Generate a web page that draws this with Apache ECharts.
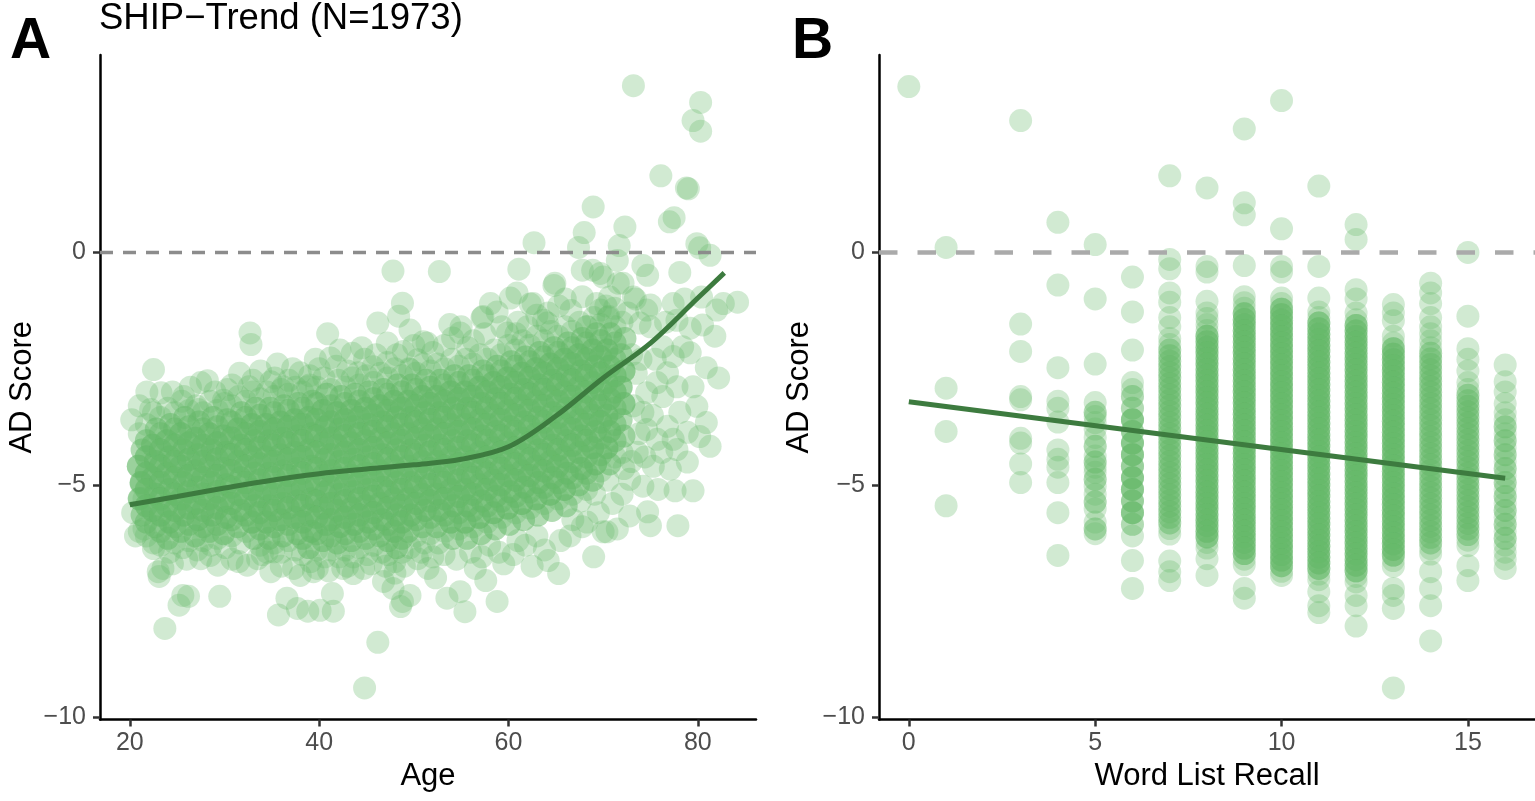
<!DOCTYPE html>
<html>
<head>
<meta charset="utf-8">
<script src="https://cdn.jsdelivr.net/npm/echarts@6/dist/echarts.min.js"></script>
<style>
html,body{margin:0;padding:0;background:#fff;}
#chart{width:1535px;height:801px;}
</style>
</head>
<body>
<div id="chart"></div>
<script>
// ---------------- DATA ----------------
const titleText = 'SHIP\u2212Trend (N=1973)';
const ageTicks = [20, 40, 60, 80];
const recallTicks = [0, 5, 10, 15];
const scoreTicks = [-10, -5, 0];
const referenceScore = 0;

// Panel A: dense core, [age, AD score, number of overlapping participants]
const coreA = [
[21.0,-3.9,1],[21.3,-4.25,2],[20.9,-4.6,3],[21.2,-4.95,3],[21.0,-5.3,3],[21.3,-5.65,2],[21.0,-6.0,1],
[22.5,-3.45,1],[22.8,-3.8,2],[22.4,-4.15,3],[22.7,-4.5,3],[22.4,-4.85,3],[22.7,-5.2,3],[22.4,-5.55,3],[22.7,-5.9,2],[22.5,-6.25,1],
[24.0,-3.35,1],[24.3,-3.7,2],[23.9,-4.05,3],[24.2,-4.4,3],[23.9,-4.75,3],[24.2,-5.1,3],[23.9,-5.45,3],[24.2,-5.8,3],[24.0,-6.15,2],[24.2,-6.45,1],
[25.5,-3.2,1],[25.8,-3.55,2],[25.4,-3.9,3],[25.7,-4.25,3],[25.4,-4.6,3],[25.7,-4.95,3],[25.4,-5.3,3],[25.7,-5.65,3],[25.4,-6.0,2],[25.6,-6.35,1],
[27.0,-3.3,1],[27.3,-3.65,2],[26.9,-4.0,3],[27.2,-4.35,3],[26.9,-4.7,3],[27.2,-5.05,3],[26.9,-5.4,3],[27.2,-5.75,3],[26.9,-6.1,2],[27.1,-6.4,1],
[28.5,-3.2,1],[28.8,-3.55,2],[28.4,-3.9,3],[28.7,-4.25,3],[28.4,-4.6,3],[28.7,-4.95,3],[28.4,-5.3,3],[28.7,-5.65,3],[28.4,-6.0,2],[28.6,-6.3,1],
[30.0,-3.25,1],[30.3,-3.6,2],[29.9,-3.95,3],[30.2,-4.3,3],[29.9,-4.65,3],[30.2,-5.0,3],[29.9,-5.35,3],[30.2,-5.7,3],[29.9,-6.05,2],[30.1,-6.35,1],
[31.5,-3.1,1],[31.8,-3.45,2],[31.4,-3.8,3],[31.7,-4.15,3],[31.4,-4.5,3],[31.7,-4.85,3],[31.4,-5.2,3],[31.7,-5.55,3],[31.4,-5.9,2],[31.6,-6.25,1],
[33.0,-3.0,1],[33.3,-3.35,2],[32.9,-3.7,3],[33.2,-4.05,3],[32.9,-4.4,3],[33.2,-4.75,3],[32.9,-5.1,3],[33.2,-5.45,3],[32.9,-5.8,3],[33.1,-6.15,2],
[34.5,-3.0,1],[34.8,-3.35,2],[34.4,-3.7,3],[34.7,-4.05,3],[34.4,-4.4,3],[34.7,-4.75,3],[34.4,-5.1,3],[34.7,-5.45,3],[34.4,-5.8,3],[34.7,-6.15,2],[34.5,-6.45,1],
[36.0,-2.95,1],[36.3,-3.3,2],[35.9,-3.65,3],[36.2,-4.0,3],[35.9,-4.35,3],[36.2,-4.7,3],[35.9,-5.05,3],[36.2,-5.4,3],[35.9,-5.75,3],[36.2,-6.1,2],[36.0,-6.45,1],
[37.5,-2.9,1],[37.8,-3.25,2],[37.4,-3.6,3],[37.7,-3.95,3],[37.4,-4.3,3],[37.7,-4.65,3],[37.4,-5.0,3],[37.7,-5.35,3],[37.4,-5.7,3],[37.7,-6.05,2],[37.5,-6.4,1],
[39.0,-2.85,1],[39.3,-3.2,2],[38.9,-3.55,3],[39.2,-3.9,3],[38.9,-4.25,3],[39.2,-4.6,3],[38.9,-4.95,3],[39.2,-5.3,3],[38.9,-5.65,3],[39.2,-6.0,3],[38.9,-6.35,2],[39.1,-6.65,1],
[40.5,-2.7,1],[40.8,-3.05,2],[40.4,-3.4,3],[40.7,-3.75,3],[40.4,-4.1,3],[40.7,-4.45,3],[40.4,-4.8,3],[40.7,-5.15,3],[40.4,-5.5,3],[40.7,-5.85,3],[40.4,-6.2,2],[40.6,-6.55,1],
[42.0,-2.75,1],[42.3,-3.1,2],[41.9,-3.45,3],[42.2,-3.8,3],[41.9,-4.15,3],[42.2,-4.5,3],[41.9,-4.85,3],[42.2,-5.2,3],[41.9,-5.55,3],[42.2,-5.9,3],[41.9,-6.25,2],[42.1,-6.55,1],
[43.5,-2.7,1],[43.8,-3.05,2],[43.4,-3.4,3],[43.7,-3.75,3],[43.4,-4.1,3],[43.7,-4.45,3],[43.4,-4.8,3],[43.7,-5.15,3],[43.4,-5.5,3],[43.7,-5.85,3],[43.4,-6.2,2],[43.6,-6.55,1],
[45.0,-2.65,1],[45.3,-3.0,2],[44.9,-3.35,3],[45.2,-3.7,3],[44.9,-4.05,3],[45.2,-4.4,3],[44.9,-4.75,3],[45.2,-5.1,3],[44.9,-5.45,3],[45.2,-5.8,3],[44.9,-6.15,2],[45.1,-6.5,1],
[46.5,-2.6,1],[46.8,-2.95,2],[46.4,-3.3,3],[46.7,-3.65,3],[46.4,-4.0,3],[46.7,-4.35,3],[46.4,-4.7,3],[46.7,-5.05,3],[46.4,-5.4,3],[46.7,-5.75,3],[46.4,-6.1,2],[46.6,-6.45,1],
[48.0,-2.5,1],[48.3,-2.85,2],[47.9,-3.2,3],[48.2,-3.55,3],[47.9,-3.9,3],[48.2,-4.25,3],[47.9,-4.6,3],[48.2,-4.95,3],[47.9,-5.3,3],[48.2,-5.65,3],[47.9,-6.0,3],[48.2,-6.35,2],[48.0,-6.65,1],
[49.5,-2.5,1],[49.8,-2.85,2],[49.4,-3.2,3],[49.7,-3.55,3],[49.4,-3.9,3],[49.7,-4.25,3],[49.4,-4.6,3],[49.7,-4.95,3],[49.4,-5.3,3],[49.7,-5.65,3],[49.4,-6.0,2],[49.6,-6.35,1],
[51.0,-2.4,1],[51.3,-2.75,2],[50.9,-3.1,3],[51.2,-3.45,3],[50.9,-3.8,3],[51.2,-4.15,3],[50.9,-4.5,3],[51.2,-4.85,3],[50.9,-5.2,3],[51.2,-5.55,3],[50.9,-5.9,2],[51.1,-6.25,1],
[52.5,-2.4,1],[52.8,-2.75,2],[52.4,-3.1,3],[52.7,-3.45,3],[52.4,-3.8,3],[52.7,-4.15,3],[52.4,-4.5,3],[52.7,-4.85,3],[52.4,-5.2,3],[52.7,-5.55,3],[52.4,-5.9,2],[52.6,-6.25,1],
[54.0,-2.3,1],[54.3,-2.65,2],[53.9,-3.0,3],[54.2,-3.35,3],[53.9,-3.7,3],[54.2,-4.05,3],[53.9,-4.4,3],[54.2,-4.75,3],[53.9,-5.1,3],[54.2,-5.45,3],[53.9,-5.8,3],[54.1,-6.15,2],
[55.5,-2.3,1],[55.8,-2.65,2],[55.4,-3.0,3],[55.7,-3.35,3],[55.4,-3.7,3],[55.7,-4.05,3],[55.4,-4.4,3],[55.7,-4.75,3],[55.4,-5.1,3],[55.7,-5.45,3],[55.4,-5.8,3],[55.6,-6.15,2],
[57.0,-2.2,1],[57.3,-2.55,2],[56.9,-2.9,3],[57.2,-3.25,3],[56.9,-3.6,3],[57.2,-3.95,3],[56.9,-4.3,3],[57.2,-4.65,3],[56.9,-5.0,3],[57.2,-5.35,3],[56.9,-5.7,3],[57.1,-6.05,2],
[58.5,-2.1,1],[58.8,-2.45,2],[58.4,-2.8,3],[58.7,-3.15,3],[58.4,-3.5,3],[58.7,-3.85,3],[58.4,-4.2,3],[58.7,-4.55,3],[58.4,-4.9,3],[58.7,-5.25,3],[58.4,-5.6,3],[58.6,-5.95,2],
[60.0,-2.0,1],[60.3,-2.35,2],[59.9,-2.7,3],[60.2,-3.05,3],[59.9,-3.4,3],[60.2,-3.75,3],[59.9,-4.1,3],[60.2,-4.45,3],[59.9,-4.8,3],[60.2,-5.15,3],[59.9,-5.5,3],[60.1,-5.85,2],
[61.5,-1.9,1],[61.8,-2.25,2],[61.4,-2.6,3],[61.7,-2.95,3],[61.4,-3.3,3],[61.7,-3.65,3],[61.4,-4.0,3],[61.7,-4.35,3],[61.4,-4.7,3],[61.7,-5.05,3],[61.4,-5.4,3],[61.6,-5.75,2],
[63.0,-1.8,1],[63.3,-2.15,2],[62.9,-2.5,3],[63.2,-2.85,3],[62.9,-3.2,3],[63.2,-3.55,3],[62.9,-3.9,3],[63.2,-4.25,3],[62.9,-4.6,3],[63.2,-4.95,3],[62.9,-5.3,3],[63.1,-5.65,2],
[64.5,-1.7,1],[64.8,-2.05,2],[64.4,-2.4,3],[64.7,-2.75,3],[64.4,-3.1,3],[64.7,-3.45,3],[64.4,-3.8,3],[64.7,-4.15,3],[64.4,-4.5,3],[64.7,-4.85,3],[64.4,-5.2,3],[64.6,-5.55,2],
[66.0,-1.6,1],[66.3,-1.95,2],[65.9,-2.3,3],[66.2,-2.65,3],[65.9,-3.0,3],[66.2,-3.35,3],[65.9,-3.7,3],[66.2,-4.05,3],[65.9,-4.4,3],[66.2,-4.75,3],[65.9,-5.1,3],[66.1,-5.45,2],
[67.5,-1.5,1],[67.8,-1.85,2],[67.4,-2.2,3],[67.7,-2.55,3],[67.4,-2.9,3],[67.7,-3.25,3],[67.4,-3.6,3],[67.7,-3.95,3],[67.4,-4.3,3],[67.7,-4.65,3],[67.4,-5.0,2],[67.6,-5.35,1],
[69.0,-1.4,1],[69.3,-1.75,2],[68.9,-2.1,3],[69.2,-2.45,3],[68.9,-2.8,3],[69.2,-3.15,3],[68.9,-3.5,3],[69.2,-3.85,3],[68.9,-4.2,3],[69.2,-4.55,3],[68.9,-4.9,2],[69.1,-5.2,1],
[70.5,-1.4,1],[70.8,-1.75,2],[70.4,-2.1,3],[70.7,-2.45,3],[70.4,-2.8,3],[70.7,-3.15,3],[70.4,-3.5,3],[70.7,-3.85,3],[70.4,-4.2,3],[70.7,-4.55,2],[70.5,-4.9,1],
[72.0,-1.5,1],[72.3,-1.85,2],[71.9,-2.2,2],[72.2,-2.55,3],[71.9,-2.9,3],[72.2,-3.25,3],[71.9,-3.6,2],[72.2,-3.95,2],[72.0,-4.3,1],[72.2,-4.65,1]
];

// Panel A: dense core, positions between the columns above
const coreA2 = [
[21.75,-3.7,1],[21.75,-4.05,2],[21.75,-4.4,3],[21.75,-4.75,3],[21.75,-5.1,3],[21.75,-5.45,3],[21.75,-5.8,2],[21.75,-6.1,1],
[23.25,-3.55,1],[23.25,-3.9,2],[23.25,-4.25,3],[23.25,-4.6,3],[23.25,-4.95,3],[23.25,-5.3,3],[23.25,-5.65,3],[23.25,-6.0,2],[23.25,-6.3,1],
[24.75,-3.45,1],[24.75,-3.8,2],[24.75,-4.15,3],[24.75,-4.5,3],[24.75,-4.85,3],[24.75,-5.2,3],[24.75,-5.55,3],[24.75,-5.9,2],[24.75,-6.25,1],
[26.25,-3.4,1],[26.25,-3.75,2],[26.25,-4.1,3],[26.25,-4.45,3],[26.25,-4.8,3],[26.25,-5.15,3],[26.25,-5.5,3],[26.25,-5.85,2],[26.25,-6.2,1],
[27.75,-3.45,1],[27.75,-3.8,2],[27.75,-4.15,3],[27.75,-4.5,3],[27.75,-4.85,3],[27.75,-5.2,3],[27.75,-5.55,3],[27.75,-5.9,2],[27.75,-6.2,1],
[29.25,-3.4,1],[29.25,-3.75,2],[29.25,-4.1,3],[29.25,-4.45,3],[29.25,-4.8,3],[29.25,-5.15,3],[29.25,-5.5,3],[29.25,-5.85,2],[29.25,-6.15,1],
[30.75,-3.3,1],[30.75,-3.65,2],[30.75,-4.0,3],[30.75,-4.35,3],[30.75,-4.7,3],[30.75,-5.05,3],[30.75,-5.4,3],[30.75,-5.75,2],[30.75,-6.1,1],
[32.25,-3.2,1],[32.25,-3.55,2],[32.25,-3.9,3],[32.25,-4.25,3],[32.25,-4.6,3],[32.25,-4.95,3],[32.25,-5.3,3],[32.25,-5.65,2],[32.25,-6.0,1],
[33.75,-3.15,1],[33.75,-3.5,2],[33.75,-3.85,3],[33.75,-4.2,3],[33.75,-4.55,3],[33.75,-4.9,3],[33.75,-5.25,3],[33.75,-5.6,3],[33.75,-5.95,2],[33.75,-6.3,1],
[35.25,-3.1,1],[35.25,-3.45,2],[35.25,-3.8,3],[35.25,-4.15,3],[35.25,-4.5,3],[35.25,-4.85,3],[35.25,-5.2,3],[35.25,-5.55,3],[35.25,-5.9,2],[35.25,-6.25,1],
[36.75,-3.05,1],[36.75,-3.4,2],[36.75,-3.75,3],[36.75,-4.1,3],[36.75,-4.45,3],[36.75,-4.8,3],[36.75,-5.15,3],[36.75,-5.5,3],[36.75,-5.85,2],[36.75,-6.2,1],
[38.25,-3.0,1],[38.25,-3.35,2],[38.25,-3.7,3],[38.25,-4.05,3],[38.25,-4.4,3],[38.25,-4.75,3],[38.25,-5.1,3],[38.25,-5.45,3],[38.25,-5.8,3],[38.25,-6.15,2],[38.25,-6.5,1],
[39.75,-2.9,1],[39.75,-3.25,2],[39.75,-3.6,3],[39.75,-3.95,3],[39.75,-4.3,3],[39.75,-4.65,3],[39.75,-5.0,3],[39.75,-5.35,3],[39.75,-5.7,3],[39.75,-6.05,2],[39.75,-6.4,1],
[41.25,-2.95,1],[41.25,-3.3,2],[41.25,-3.65,3],[41.25,-4.0,3],[41.25,-4.35,3],[41.25,-4.7,3],[41.25,-5.05,3],[41.25,-5.4,3],[41.25,-5.75,3],[41.25,-6.1,2],[41.25,-6.4,1],
[42.75,-2.9,1],[42.75,-3.25,2],[42.75,-3.6,3],[42.75,-3.95,3],[42.75,-4.3,3],[42.75,-4.65,3],[42.75,-5.0,3],[42.75,-5.35,3],[42.75,-5.7,3],[42.75,-6.05,2],[42.75,-6.4,1],
[44.25,-2.85,1],[44.25,-3.2,2],[44.25,-3.55,3],[44.25,-3.9,3],[44.25,-4.25,3],[44.25,-4.6,3],[44.25,-4.95,3],[44.25,-5.3,3],[44.25,-5.65,3],[44.25,-6.0,2],[44.25,-6.35,1],
[45.75,-2.8,1],[45.75,-3.15,2],[45.75,-3.5,3],[45.75,-3.85,3],[45.75,-4.2,3],[45.75,-4.55,3],[45.75,-4.9,3],[45.75,-5.25,3],[45.75,-5.6,3],[45.75,-5.95,2],[45.75,-6.3,1],
[47.25,-2.7,1],[47.25,-3.05,2],[47.25,-3.4,3],[47.25,-3.75,3],[47.25,-4.1,3],[47.25,-4.45,3],[47.25,-4.8,3],[47.25,-5.15,3],[47.25,-5.5,3],[47.25,-5.85,2],[47.25,-6.2,2],[47.25,-6.5,1],
[48.75,-2.65,1],[48.75,-3.0,2],[48.75,-3.35,3],[48.75,-3.7,3],[48.75,-4.05,3],[48.75,-4.4,3],[48.75,-4.75,3],[48.75,-5.1,3],[48.75,-5.45,3],[48.75,-5.8,3],[48.75,-6.15,2],[48.75,-6.45,1],
[50.25,-2.6,1],[50.25,-2.95,2],[50.25,-3.3,3],[50.25,-3.65,3],[50.25,-4.0,3],[50.25,-4.35,3],[50.25,-4.7,3],[50.25,-5.05,3],[50.25,-5.4,3],[50.25,-5.75,2],[50.25,-6.1,1],
[51.75,-2.55,1],[51.75,-2.9,2],[51.75,-3.25,3],[51.75,-3.6,3],[51.75,-3.95,3],[51.75,-4.3,3],[51.75,-4.65,3],[51.75,-5.0,3],[51.75,-5.35,3],[51.75,-5.7,2],[51.75,-6.05,1],
[53.25,-2.5,1],[53.25,-2.85,2],[53.25,-3.2,3],[53.25,-3.55,3],[53.25,-3.9,3],[53.25,-4.25,3],[53.25,-4.6,3],[53.25,-4.95,3],[53.25,-5.3,3],[53.25,-5.65,2],[53.25,-6.0,1],
[54.75,-2.45,1],[54.75,-2.8,2],[54.75,-3.15,3],[54.75,-3.5,3],[54.75,-3.85,3],[54.75,-4.2,3],[54.75,-4.55,3],[54.75,-4.9,3],[54.75,-5.25,3],[54.75,-5.6,2],[54.75,-5.95,1],
[56.25,-2.4,1],[56.25,-2.75,2],[56.25,-3.1,3],[56.25,-3.45,3],[56.25,-3.8,3],[56.25,-4.15,3],[56.25,-4.5,3],[56.25,-4.85,3],[56.25,-5.2,3],[56.25,-5.55,2],[56.25,-5.9,1],
[57.75,-2.3,1],[57.75,-2.65,2],[57.75,-3.0,3],[57.75,-3.35,3],[57.75,-3.7,3],[57.75,-4.05,3],[57.75,-4.4,3],[57.75,-4.75,3],[57.75,-5.1,3],[57.75,-5.45,2],[57.75,-5.8,1],
[59.25,-2.2,1],[59.25,-2.55,2],[59.25,-2.9,3],[59.25,-3.25,3],[59.25,-3.6,3],[59.25,-3.95,3],[59.25,-4.3,3],[59.25,-4.65,3],[59.25,-5.0,3],[59.25,-5.35,2],[59.25,-5.7,1],
[60.75,-2.1,1],[60.75,-2.45,2],[60.75,-2.8,3],[60.75,-3.15,3],[60.75,-3.5,3],[60.75,-3.85,3],[60.75,-4.2,3],[60.75,-4.55,3],[60.75,-4.9,3],[60.75,-5.25,2],[60.75,-5.6,1],
[62.25,-2.0,1],[62.25,-2.35,2],[62.25,-2.7,3],[62.25,-3.05,3],[62.25,-3.4,3],[62.25,-3.75,3],[62.25,-4.1,3],[62.25,-4.45,3],[62.25,-4.8,3],[62.25,-5.15,2],[62.25,-5.5,1],
[63.75,-1.9,1],[63.75,-2.25,2],[63.75,-2.6,3],[63.75,-2.95,3],[63.75,-3.3,3],[63.75,-3.65,3],[63.75,-4.0,3],[63.75,-4.35,3],[63.75,-4.7,3],[63.75,-5.05,2],[63.75,-5.4,1],
[65.25,-1.8,1],[65.25,-2.15,2],[65.25,-2.5,3],[65.25,-2.85,3],[65.25,-3.2,3],[65.25,-3.55,3],[65.25,-3.9,3],[65.25,-4.25,3],[65.25,-4.6,3],[65.25,-4.95,2],[65.25,-5.3,1],
[66.75,-1.7,1],[66.75,-2.05,2],[66.75,-2.4,3],[66.75,-2.75,3],[66.75,-3.1,3],[66.75,-3.45,3],[66.75,-3.8,3],[66.75,-4.15,3],[66.75,-4.5,2],[66.75,-4.85,2],[66.75,-5.2,1],
[68.25,-1.6,1],[68.25,-1.95,2],[68.25,-2.3,3],[68.25,-2.65,3],[68.25,-3.0,3],[68.25,-3.35,3],[68.25,-3.7,3],[68.25,-4.05,3],[68.25,-4.4,2],[68.25,-4.75,2],[68.25,-5.1,1],
[69.75,-1.55,1],[69.75,-1.9,2],[69.75,-2.25,3],[69.75,-2.6,3],[69.75,-2.95,3],[69.75,-3.3,3],[69.75,-3.65,3],[69.75,-4.0,2],[69.75,-4.35,2],[69.75,-4.7,1],
[71.25,-1.6,1],[71.25,-1.95,2],[71.25,-2.3,2],[71.25,-2.65,3],[71.25,-3.0,3],[71.25,-3.35,2],[71.25,-3.7,2],[71.25,-4.05,2],[71.25,-4.4,1]
];

// Panel A: single participants above the core
const upperA = [
[20.2,-3.6],[21.0,-3.3],[21.8,-3.0],[22.2,-3.38],[22.5,-2.52],[23.3,-3.02],[24.5,-3.0],[25.7,-3.1],[26.4,-2.9],[27.2,-3.38],[27.5,-2.8],[28.2,-2.76],[29.0,-3.0],[29.9,-3.18],
[30.3,-2.95],[30.8,-2.85],[31.6,-2.6],[32.7,-1.73],[32.8,-1.98],[32.6,-2.89],[33.0,-2.75],[33.8,-2.55],[34.9,-2.78],[35.3,-2.7],[35.6,-2.4],[36.2,-2.89],[36.8,-2.75],[37.2,-2.5],
[38.0,-2.59],[38.8,-2.89],[39.0,-2.65],[39.6,-2.3],[40.0,-2.5],[40.9,-1.75],[41.2,-2.27],[41.8,-2.45],[42.2,-2.1],[43.0,-2.55],[43.5,-2.17],[44.1,-2.59],[44.5,-2.05],[44.8,-2.3],
[45.7,-2.46],[46.0,-2.2],[46.2,-1.52],[47.2,-1.95],[47.2,-2.37],[47.8,-0.4],[48.2,-2.2],[48.4,-1.37],[48.8,-1.09],[48.9,-2.13],[49.6,-2.52],[49.6,-1.67],[50.0,-2.0],[50.4,-2.31],
[51.0,-1.92],[51.4,-1.95],[52.0,-2.15],[52.7,-0.41],[53.2,-2.0],[53.8,-1.55],[54.1,-1.84],[54.9,-1.73],[55.0,-1.6],[55.7,-2.05],[56.3,-1.9],[57.2,-1.4],[57.3,-1.38],[57.5,-1.75],
[58.1,-1.1],[58.8,-1.28],[59.3,-1.6],[59.9,-1.73],[60.2,-0.98],[60.8,-1.75],[60.9,-0.87],[61.0,-1.5],[61.1,-0.36],[62.0,-1.6],[62.3,-1.11],[62.6,-1.1],[62.7,0.21],[63.0,-1.35],
[63.7,-1.46],[64.1,-1.52],[64.2,-1.3],[64.8,-0.71],[64.9,-0.66],[65.3,-1.15],[66.0,-1.0],[66.6,-1.25],[67.4,0.11],[67.8,-0.95],[67.8,-0.38],[68.0,0.43],[68.3,-1.6],[68.9,-0.38],
[68.95,0.98],[69.3,-1.1],[69.7,-0.45],[69.7,-1.24],[70.0,-0.53],[70.3,-1.15],[70.6,-1.38],[70.7,-0.96],[71.2,-1.2],[71.5,-0.17],[71.6,-0.66],[71.7,0.15],[72.1,-0.66],[72.3,0.55]
];

// Panel A: single participants below the core
const lowerA = [
[20.3,-5.6],[20.6,-6.1],[21.2,-4.98],[21.5,-5.3],[21.5,-5.95],[22.5,-6.37],[23.0,-6.87],[23.1,-6.97],[23.5,-6.8],[23.7,-8.09],[24.5,-6.7],[25.2,-7.59],[25.6,-7.38],[26.0,-6.6],
[26.2,-7.4],[27.5,-6.59],[28.5,-6.52],[29.3,-6.73],[29.5,-7.4],[30.8,-6.6],[31.5,-6.65],[32.4,-6.73],[33.5,-6.59],[34.0,-6.5],[34.9,-6.87],[35.2,-6.44],[35.7,-7.8],[36.0,-6.75],
[36.6,-7.44],[37.3,-6.8],[37.7,-7.66],[38.0,-6.95],[38.8,-7.72],[39.4,-6.87],[39.8,-6.8],[40.1,-7.7],[41.0,-6.85],[41.4,-7.34],[41.5,-7.72],[42.5,-6.8],[43.0,-6.75],[43.6,-6.91],
[44.7,-6.8],[44.8,-9.37],[45.5,-6.7],[46.2,-8.39],[46.8,-7.08],[47.0,-6.75],[47.8,-7.23],[48.0,-6.9],[48.6,-7.62],[48.8,-7.51],[49.0,-6.75],[49.6,-7.38],[50.4,-6.59],[50.8,-6.45],
[51.5,-6.8],[52.0,-6.55],[52.3,-7.0],[53.2,-6.5],[53.5,-7.44],[54.5,-6.6],[54.9,-7.3],[55.4,-7.73],[56.0,-6.45],[56.5,-6.8],[57.2,-6.55],[57.6,-7.06],[58.0,-6.3],[58.8,-7.51],
[59.0,-6.45],[59.5,-6.7],[60.5,-6.5],[61.0,-6.2],[61.8,-6.3],[62.5,-6.75],[63.0,-6.1],[63.8,-6.4],[64.2,-6.63],[65.3,-6.91],[65.5,-6.2],[66.5,-6.1],[66.8,-5.75],[67.8,-5.9],
[68.3,-5.8],[69.0,-6.55],[69.5,-5.6],[70.0,-6.01],[70.4,-6.01],[71.0,-5.4],[71.5,-5.95],[72.0,-5.2]
];

// Panel A: older participants scattered to the right of the core
const olderA = [
[73.2,3.59],[80.3,3.23],[79.5,2.84],[80.3,2.61],[76.1,1.65],[78.8,1.39],[79.0,1.37],[77.0,0.66],[77.5,0.75],[80.2,0.1],[79.9,0.19],[81.3,-0.06],[78.1,-0.43],[74.7,-0.49],
[74.2,-0.28],[82.7,-1.1],[82.0,-1.24],[80.4,-0.96],[77.4,-1.1],[75.0,-1.13],[80.5,-1.56],[79.2,-1.63],[77.8,-1.46],[79.2,-2.16],[80.9,-2.48],[77.4,-2.24],[76.3,-2.03],[79.5,-2.89],
[77.8,-2.89],[75.7,-2.8],[79.9,-3.31],[80.9,-3.66],[78.1,-3.44],[76.8,-3.74],[81.3,-4.17],[80.2,-3.96],[78.9,-3.87],[77.4,-4.02],[75.7,-4.02],[74.6,-3.81],[78.9,-4.51],[77.1,-4.66],
[75.3,-4.6],[79.5,-5.13],[77.6,-5.13],[74.2,-5.03],[72.8,-4.88],[77.9,-5.88],[75.0,-5.88],[74.7,-5.58],[72.8,-5.67],[76.3,-3.1],[74.6,-3.02],[74.2,-3.44],[75.0,-1.6],[73.9,-1.52],
[78.4,-2.03],[76.8,-2.59],[77.8,-4.24],[73.6,-4.3],[73.2,-0.96],[74.6,-1.24],[84.2,-1.07],[73.0,-2.2],[73.5,-2.6],[73.2,-3.3],[73.8,-3.9],[73.0,-4.5],[74.0,-2.3],[72.6,-1.3],
[73.4,-1.0],[74.4,-4.4],[75.5,-2.3],[75.2,-3.5],[76.2,-4.3],[75.8,-5.1],[76.6,-1.5],[78.6,-1.0],[81.8,-1.8],[82.2,-2.7]
];

// Panel A: LOESS fit
const loessAge   = [20, 25, 30, 35, 40, 45, 50, 55, 60, 65, 70, 75, 80, 82.8];
const loessScore = [-5.43, -5.25, -5.07, -4.9, -4.76, -4.66, -4.57, -4.45, -4.18, -3.52, -2.7, -1.95, -0.98, -0.44];

// Panel B: word list recall values with their scattered AD scores [score, participants]
const recallValues = [0, 1, 3, 4, 5, 6, 7, 8, 9, 10, 11, 12, 13, 14, 15, 16];
const recallScores = [
 [[3.57,1]],
 [[0.11,1],[-2.92,1],[-3.85,1],[-5.45,1]],
 [[2.84,1],[-1.54,1],[-2.13,1],[-3.1,1],[-3.17,1],[-4.0,1],[-4.1,1],[-4.55,1],[-4.95,1]],
 [[0.65,1],[-0.7,1],[-2.48,1],[-3.2,1],[-3.35,1],[-3.65,1],[-4.25,1],[-4.45,1],[-4.62,1],[-4.95,1],[-5.6,1],[-6.52,1]],
 [[0.17,1],[-1.0,1],[-2.4,1],[-3.23,1],[-3.44,2],[-3.53,1],[-3.66,1],[-3.8,1],[-3.98,1],[-4.17,2],[-4.38,1],[-4.51,2],[-4.62,1],[-4.73,1],[-4.88,2],[-5.03,1],[-5.2,1],[-5.37,2],[-5.52,1],[-5.8,1],[-5.95,2],[-6.05,1]],
 [[-0.53,1],[-1.28,1],[-2.1,1],[-2.8,1],[-2.95,1],[-3.1,2],[-3.35,2],[-3.6,4],[-3.85,3],[-4.1,4],[-4.35,4],[-4.6,3],[-4.85,4],[-5.1,4],[-5.35,3],[-5.6,4],[-5.85,2],[-6.1,1],[-6.63,1],[-7.23,1]],
 [[1.65,1],[-0.15,1],[-0.35,1],[-0.87,1],[-1.07,1],[-1.4,1],[-1.6,1],[-1.85,1],[-1.98,1],[-5.94,1],[-6.06,1],[-6.64,1],[-6.87,1],[-7.06,1]],
 [[1.39,1],[-0.3,1],[-0.42,1],[-1.05,1],[-1.3,1],[-1.42,1],[-1.55,1],[-1.68,1],[-6.24,1],[-6.36,1],[-6.59,1],[-6.95,1]],
 [[2.66,1],[1.07,1],[0.81,1],[-0.28,1],[-0.95,1],[-1.08,1],[-1.2,1],[-6.6,1],[-6.72,1],[-7.23,1],[-7.44,1]],
 [[3.27,1],[0.51,1],[-0.3,1],[-0.42,1],[-0.98,1],[-1.1,1],[-6.86,1],[-6.95,1]],
 [[1.43,1],[-0.3,1],[-0.98,1],[-1.28,1],[-1.4,1],[-6.92,1],[-7.04,1],[-7.3,1],[-7.6,1],[-7.75,1]],
 [[0.6,1],[0.28,1],[-0.8,1],[-1.0,1],[-1.3,1],[-1.45,1],[-6.97,1],[-7.09,1],[-7.38,1],[-7.6,1],[-8.04,1]],
 [[-1.12,1],[-1.3,1],[-1.47,1],[-1.8,1],[-1.95,1],[-6.63,1],[-6.75,1],[-7.23,1],[-7.38,1],[-7.66,1],[-9.37,1]],
 [[-0.66,1],[-0.87,1],[-1.1,1],[-1.4,1],[-1.6,1],[-1.75,1],[-1.9,1],[-2.05,1],[-6.37,1],[-6.49,1],[-6.87,1],[-7.23,1],[-7.6,1],[-8.36,1]],
 [[0.0,1],[-1.37,1],[-2.07,1],[-2.3,1],[-2.55,1],[-2.8,1],[-2.95,1],[-6.19,1],[-6.31,1],[-6.74,1],[-7.06,1]],
 [[-2.42,1],[-2.78,1],[-3.0,1],[-3.25,1],[-3.45,1],[-3.6,1],[-3.75,2],[-3.9,1],[-4.05,2],[-4.2,1],[-4.35,2],[-4.5,1],[-4.65,2],[-4.8,1],[-4.95,2],[-5.1,1],[-5.25,2],[-5.4,1],[-5.55,2],[-5.7,1],[-5.85,2],[-6.0,1],[-6.15,2],[-6.3,1],[-6.45,1],[-6.6,1],[-6.8,1]]
];

// Panel B: solid bands of the dense columns (each score is shared by denseCount participants)
const denseRecall = [7, 8, 9, 10, 11, 12, 13, 14, 15];
const denseCount  = [2, 3, 3, 3, 3, 3, 3, 2, 2];
const denseScores = [
 [-2.10,-2.22,-2.34,-2.46,-2.58,-2.70,-2.82,-2.94,-3.06,-3.18,-3.30,-3.42,-3.54,-3.66,-3.78,-3.90,-4.02,-4.14,-4.26,-4.38,-4.50,-4.62,-4.74,-4.86,-4.98,-5.10,-5.22,-5.34,-5.46,-5.58,-5.70,-5.82],
 [-1.80,-1.92,-2.04,-2.16,-2.28,-2.40,-2.52,-2.64,-2.76,-2.88,-3.00,-3.12,-3.24,-3.36,-3.48,-3.60,-3.72,-3.84,-3.96,-4.08,-4.20,-4.32,-4.44,-4.56,-4.68,-4.80,-4.92,-5.04,-5.16,-5.28,-5.40,-5.52,-5.64,-5.76,-5.88,-6.00,-6.12],
 [-1.32,-1.44,-1.56,-1.68,-1.80,-1.92,-2.04,-2.16,-2.28,-2.40,-2.52,-2.64,-2.76,-2.88,-3.00,-3.12,-3.24,-3.36,-3.48,-3.60,-3.72,-3.84,-3.96,-4.08,-4.20,-4.32,-4.44,-4.56,-4.68,-4.80,-4.92,-5.04,-5.16,-5.28,-5.40,-5.52,-5.64,-5.76,-5.88,-6.00,-6.12,-6.24,-6.36,-6.48],
 [-1.22,-1.34,-1.46,-1.58,-1.70,-1.82,-1.94,-2.06,-2.18,-2.30,-2.42,-2.54,-2.66,-2.78,-2.90,-3.02,-3.14,-3.26,-3.38,-3.50,-3.62,-3.74,-3.86,-3.98,-4.10,-4.22,-4.34,-4.46,-4.58,-4.70,-4.82,-4.94,-5.06,-5.18,-5.30,-5.42,-5.54,-5.66,-5.78,-5.90,-6.02,-6.14,-6.26,-6.38,-6.50,-6.62,-6.74],
 [-1.52,-1.64,-1.76,-1.88,-2.00,-2.12,-2.24,-2.36,-2.48,-2.60,-2.72,-2.84,-2.96,-3.08,-3.20,-3.32,-3.44,-3.56,-3.68,-3.80,-3.92,-4.04,-4.16,-4.28,-4.40,-4.52,-4.64,-4.76,-4.88,-5.00,-5.12,-5.24,-5.36,-5.48,-5.60,-5.72,-5.84,-5.96,-6.08,-6.20,-6.32,-6.44,-6.56,-6.68,-6.80],
 [-1.57,-1.69,-1.81,-1.93,-2.05,-2.17,-2.29,-2.41,-2.53,-2.65,-2.77,-2.89,-3.01,-3.13,-3.25,-3.37,-3.49,-3.61,-3.73,-3.85,-3.97,-4.09,-4.21,-4.33,-4.45,-4.57,-4.69,-4.81,-4.93,-5.05,-5.17,-5.29,-5.41,-5.53,-5.65,-5.77,-5.89,-6.01,-6.13,-6.25,-6.37,-6.49,-6.61,-6.73,-6.85],
 [-2.07,-2.19,-2.31,-2.43,-2.55,-2.67,-2.79,-2.91,-3.03,-3.15,-3.27,-3.39,-3.51,-3.63,-3.75,-3.87,-3.99,-4.11,-4.23,-4.35,-4.47,-4.59,-4.71,-4.83,-4.95,-5.07,-5.19,-5.31,-5.43,-5.55,-5.67,-5.79,-5.91,-6.03,-6.15,-6.27,-6.39,-6.51],
 [-2.17,-2.29,-2.41,-2.53,-2.65,-2.77,-2.89,-3.01,-3.13,-3.25,-3.37,-3.49,-3.61,-3.73,-3.85,-3.97,-4.09,-4.21,-4.33,-4.45,-4.57,-4.69,-4.81,-4.93,-5.05,-5.17,-5.29,-5.41,-5.53,-5.65,-5.77,-5.89,-6.01,-6.13,-6.25],
 [-3.07,-3.19,-3.31,-3.43,-3.55,-3.67,-3.79,-3.91,-4.03,-4.15,-4.27,-4.39,-4.51,-4.63,-4.75,-4.87,-4.99,-5.11,-5.23,-5.35,-5.47,-5.59,-5.71,-5.83,-5.95,-6.07]
];

// Panel B: linear fit endpoints
const fitRecall = [0, 16];
const fitScore  = [-3.21, -4.86];

// ---------------- BUILD ----------------
function expandTriples(list) {
  const out = [];
  list.forEach(([a, s, n]) => { for (let i = 0; i < n; i++) out.push([a, s]); });
  return out;
}
const pointsA = expandTriples(coreA).concat(expandTriples(coreA2), upperA, lowerA, olderA);
const pointsB = [];
recallValues.forEach((x, i) => {
  recallScores[i].forEach(([s, n]) => { for (let k = 0; k < n; k++) pointsB.push([x, s]); });
});
denseRecall.forEach((x, i) => {
  denseScores[i].forEach(s => { for (let k = 0; k < denseCount[i]; k++) pointsB.push([x, s]); });
});
const loessData = loessAge.map((a, i) => [a, loessScore[i]]);
const fitData = fitRecall.map((r, i) => [r, fitScore[i]]);

const FONT = 'Liberation Sans, Arial, Helvetica, sans-serif';
const xLimA = [16.85, 86.15];
const xLimB = [-0.8, 16.8];
const yLim = [-10.05, 4.25];
const fmt = v => (v < 0 ? '\u2212' + Math.abs(v) : String(v));

function xAxisCfg(gi, lim, ticks, name) {
  return {
    type: 'value', gridIndex: gi, min: lim[0], max: lim[1],
    splitLine: { show: false },
    axisLine: { show: true, onZero: false, lineStyle: { color: '#000', width: 2.5 } },
    axisTick: { show: true, length: 7, customValues: ticks, lineStyle: { color: '#333', width: 2.5 } },
    axisLabel: { customValues: ticks, formatter: fmt, fontSize: 25, color: '#4d4d4d', margin: 11, fontFamily: FONT },
    name: name, nameLocation: 'middle', nameGap: 41,
    nameTextStyle: { fontSize: 31, color: '#000', fontFamily: FONT }
  };
}
function yAxisCfg(gi, gap) {
  return {
    type: 'value', gridIndex: gi, min: yLim[0], max: yLim[1],
    splitLine: { show: false },
    axisLine: { show: true, onZero: false, lineStyle: { color: '#000', width: 2.5 } },
    axisTick: { show: true, length: 7, customValues: scoreTicks, lineStyle: { color: '#333', width: 2.5 } },
    axisLabel: { customValues: scoreTicks, formatter: fmt, fontSize: 25, color: '#4d4d4d', margin: 14, fontFamily: FONT },
    name: 'AD Score', nameLocation: 'middle', nameGap: gap,
    nameTextStyle: { fontSize: 31, color: '#000', fontFamily: FONT }
  };
}
const scatterStyle = { color: '#66bb6a', opacity: 0.3 };

const chart = echarts.init(document.getElementById('chart'), null, { renderer: 'canvas' });
chart.setOption({
  animation: false,
  backgroundColor: '#fff',
  grid: [
    { left: 100, top: 55, width: 656, height: 664.5, containLabel: false },
    { left: 879, top: 55, width: 657, height: 664.5, containLabel: false }
  ],
  xAxis: [xAxisCfg(0, xLimA, ageTicks, 'Age'), xAxisCfg(1, xLimB, recallTicks, 'Word List Recall')],
  yAxis: [yAxisCfg(0, 62), yAxisCfg(1, 64)],
  graphic: [
    { type: 'text', left: 10, top: 14, style: { text: 'A', fontSize: 57, fontWeight: 'bold', fill: '#000', fontFamily: FONT } },
    { type: 'text', left: 792, top: 14, style: { text: 'B', fontSize: 57, fontWeight: 'bold', fill: '#000', fontFamily: FONT } },
    { type: 'text', left: 99, top: 0, style: { text: titleText, fontSize: 36.5, fill: '#000', fontFamily: FONT } }
  ],
  series: [
    { type: 'scatter', xAxisIndex: 0, yAxisIndex: 0, data: pointsA, symbol: 'circle', symbolSize: 23,
      itemStyle: scatterStyle, large: false, progressive: 0, z: 2, silent: true },
    { type: 'line', xAxisIndex: 0, yAxisIndex: 0, data: [[xLimA[0], referenceScore], [xLimA[1], referenceScore]],
      symbol: 'none', lineStyle: { color: '#8c8c8c', width: 3.5, type: [13, 10] }, z: 3, silent: true },
    { type: 'line', xAxisIndex: 0, yAxisIndex: 0, data: loessData, smooth: 0.35, symbol: 'none',
      lineStyle: { color: '#3d7b3f', width: 5 }, z: 4, silent: true },
    { type: 'scatter', xAxisIndex: 1, yAxisIndex: 1, data: pointsB, symbol: 'circle', symbolSize: 23,
      itemStyle: scatterStyle, large: false, progressive: 0, z: 2, silent: true },
    { type: 'line', xAxisIndex: 1, yAxisIndex: 1, data: [[xLimB[0], referenceScore], [xLimB[1], referenceScore]],
      symbol: 'none', lineStyle: { color: '#aaaaaa', width: 4.5, type: [18.5, 20] }, z: 3, silent: true },
    { type: 'line', xAxisIndex: 1, yAxisIndex: 1, data: fitData, symbol: 'none',
      lineStyle: { color: '#3d7b3f', width: 5 }, z: 4, silent: true }
  ]
});
</script>
</body>
</html>
